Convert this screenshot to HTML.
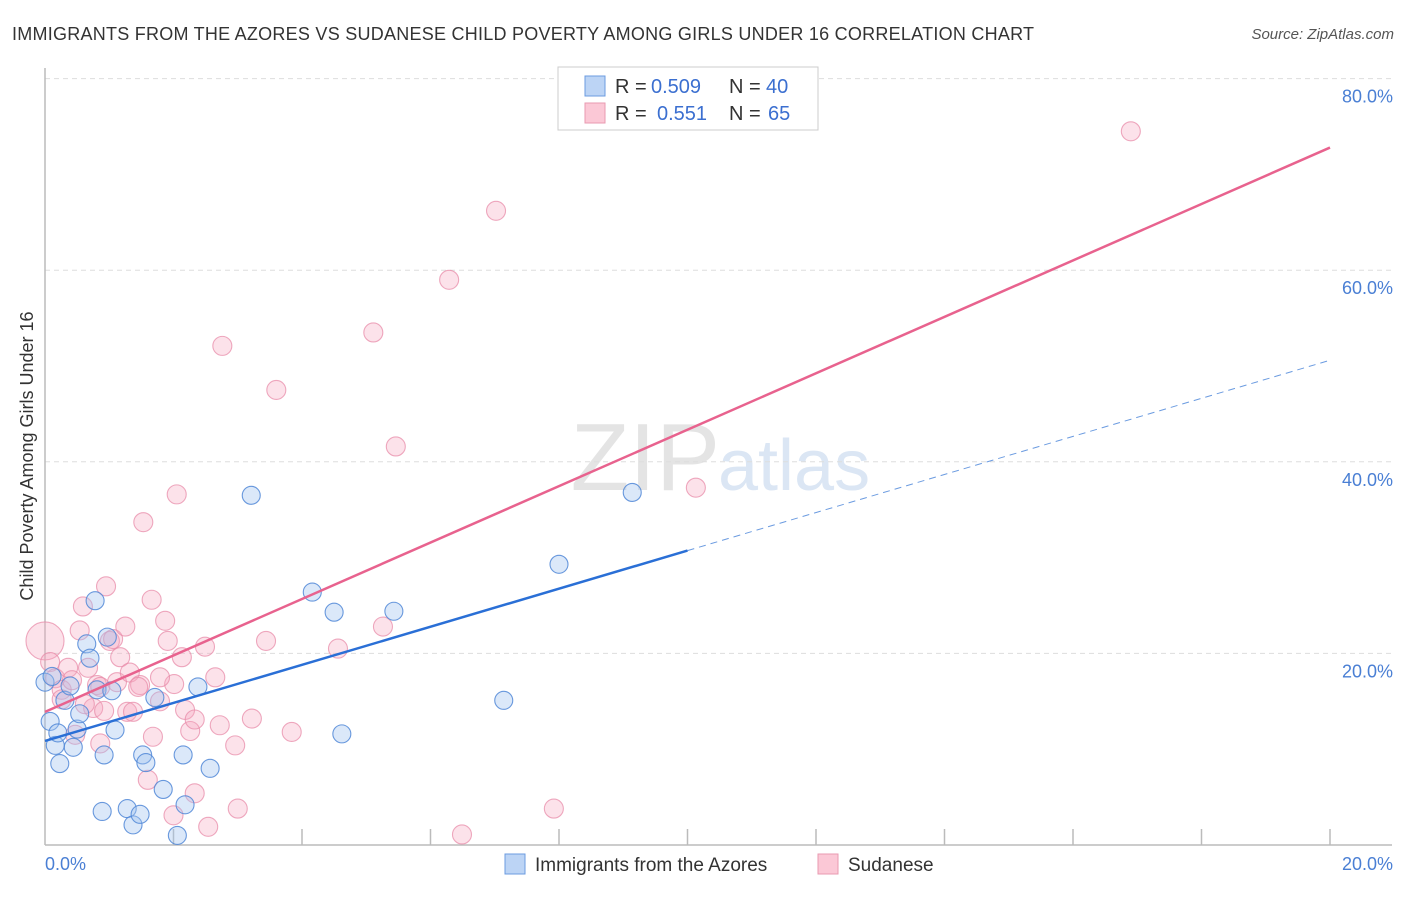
<!DOCTYPE html>
<html><head><meta charset="utf-8"><style>
body{margin:0;background:#fff;font-family:"Liberation Sans",sans-serif}
svg text{font-family:"Liberation Sans",sans-serif}
</style></head><body>
<svg id="c" width="1406" height="892" xmlns="http://www.w3.org/2000/svg">
<text x="12" y="40" font-size="18" fill="#333" textLength="1022">IMMIGRANTS FROM THE AZORES VS SUDANESE CHILD POVERTY AMONG GIRLS UNDER 16 CORRELATION CHART</text>
<text x="1394" y="39" font-size="15" fill="#555" font-style="italic" text-anchor="end">Source: ZipAtlas.com</text>
<text x="720" y="490" font-size="96" fill="#e4e4e4" font-family="Liberation Serif" text-anchor="end">ZIP</text>
<text x="718" y="490" font-size="72" fill="#dbe6f4">atlas</text>
<g id="grid"></g><g id="pts"></g><g id="lines"></g>
<text transform="translate(33,456) rotate(-90)" font-size="18" fill="#333" text-anchor="middle">Child Poverty Among Girls Under 16</text>
<text x="45" y="870" font-size="18" fill="#4a7fd4">0.0%</text>
<text x="1393" y="870" font-size="18" fill="#4a7fd4" text-anchor="end">20.0%</text>
<g>
<rect x="558" y="67" width="260" height="63" fill="#fff" stroke="#ccc"/>
<rect x="585" y="76" width="20" height="20" fill="#bcd4f5" stroke="#6b9be0"/>
<rect x="585" y="103" width="20" height="20" fill="#fbc8d6" stroke="#e89ab0"/>
<text y="93" font-size="20" fill="#333"><tspan x="615">R =</tspan><tspan x="651" fill="#3b6fd0">0.509</tspan><tspan x="729">N =</tspan><tspan x="766" fill="#3b6fd0">40</tspan></text>
<text y="120" font-size="20" fill="#333"><tspan x="615">R =</tspan><tspan x="657" fill="#3b6fd0">0.551</tspan><tspan x="729">N =</tspan><tspan x="768" fill="#3b6fd0">65</tspan></text>
</g>
<g>
<rect x="505" y="854" width="20" height="20" fill="#bcd4f5" stroke="#6b9be0"/>
<text x="535" y="871" font-size="19" fill="#333">Immigrants from the Azores</text>
<rect x="818" y="854" width="20" height="20" fill="#fbc8d6" stroke="#e89ab0"/>
<text x="848" y="871" font-size="19" fill="#333">Sudanese</text>
</g>
</svg>
<script>
const blueX=[0,0.08,0.16,0.23,0.2,0.31,0.39,0.44,0.5,0.54,0.65,0.7,0.78,0.81,0.92,0.89,0.97,1.04,1.09,1.28,1.37,1.48,1.52,1.57,1.71,1.84,2.06,2.15,2.18,2.38,2.57,3.21,4.16,4.5,4.62,5.43,7.14,8.0,9.14,0.11];
const blueY=[17.0,12.9,10.4,8.5,11.7,15.1,16.6,10.2,12.1,13.7,21.0,19.5,25.5,16.2,9.4,3.5,21.7,16.1,12.0,3.8,2.1,3.2,9.4,8.6,15.4,5.8,1.0,9.4,4.2,16.5,8.0,36.5,26.4,24.3,11.6,24.4,15.1,29.3,36.8,17.6];
const pinkX=[0,0.08,0.16,0.26,0.36,0.42,0.54,0.59,0.67,0.75,0.81,0.86,0.92,0.95,1.01,1.06,1.12,1.17,1.25,1.28,1.32,1.37,1.48,1.53,1.6,1.66,1.68,1.79,1.87,1.91,2.0,2.01,2.05,2.13,2.18,2.26,2.33,2.49,2.54,2.65,2.72,2.76,2.96,3.0,3.22,3.44,3.6,3.84,4.56,5.11,5.26,5.46,6.29,6.49,7.02,7.92,10.13,16.9,0.26,0.47,0.62,1.45,1.79,2.33,0.86];
const pinkY=[21.3,19.1,17.4,16.2,18.5,17.2,22.4,24.9,18.5,14.3,16.7,10.6,14.0,27.0,21.3,21.5,17.0,19.6,22.8,13.9,18.0,13.9,16.7,33.7,6.8,25.6,11.3,15.0,23.4,21.3,3.1,16.8,36.6,19.6,14.1,11.9,5.4,20.7,1.9,17.5,12.5,52.1,10.4,3.8,13.2,21.3,47.5,11.8,20.5,53.5,22.8,41.6,59.0,1.1,66.2,3.8,37.3,74.5,15.2,11.5,14.7,16.5,17.5,13.1,16.5];
const pinkSize=[20,10,10,10,10,10,10,10,10,10,10,10,10,10,10,10,10,10,10,10,10,10,10,10,10,10,10,10,10,10,10,10,10,10,10,10,10,10,10,10,10,10,10,10,10,10,10,10,10,10,10,10,10,10,10,10,10,10,10,10,10,10,10,10,10];
const yTicks=[20,40,60,80];
const blueLine=[10.86,50.6];
const pinkLine=[13.9,72.8];
const X0=45,X1=1330,Y0=845,PY=191.6/20;
const sx=v=>X0+(X1-X0)*v/20, sy=v=>Y0-v*PY;
const NS='http://www.w3.org/2000/svg';
function mk(tag,attrs,parent){const e=document.createElementNS(NS,tag);for(const k in attrs)e.setAttribute(k,attrs[k]);parent.appendChild(e);return e;}
const g=document.getElementById('grid');
yTicks.forEach(t=>{
 const l=mk('line',{x1:45,x2:1392,y1:sy(t),y2:sy(t),stroke:'#ddd','stroke-dasharray':'5,4'},g);
 
 
 const tx=mk('text',{x:1393,y:sy(t)+24,'font-size':18,fill:'#4a7fd4','text-anchor':'end'},g);
 tx.textContent=t.toFixed(1)+'%';
 
 
});
const ax=mk('line',{x1:45,x2:1392,y1:Y0,y2:Y0,stroke:'#bbb','stroke-width':1.5},g);


const ay=mk('line',{x1:45,x2:45,y1:68,y2:Y0,stroke:'#bbb','stroke-width':1.5},g);


for(let i=1;i<=10;i++){const t=mk('line',{x1:sx(i*2),x2:sx(i*2),y1:Y0,y2:Y0-16,stroke:'#bbb','stroke-width':1.5},g);
 
 }
const p=document.getElementById('pts');
pinkX.forEach((v,i)=>{const c=mk('circle',{cx:sx(v),cy:sy(pinkY[i]),r:pinkSize[i]*0.95,fill:'rgba(247,168,190,0.33)',stroke:'rgba(232,140,170,0.75)','stroke-width':1.1},p);
 
 });
blueX.forEach((v,i)=>{const c=mk('circle',{cx:sx(v),cy:sy(blueY[i]),r:9,fill:'rgba(160,195,240,0.38)',stroke:'rgba(80,135,215,0.85)','stroke-width':1.1},p);
 
 });
const L=document.getElementById('lines');
const bf=x=>blueLine[0]+(blueLine[1]-blueLine[0])*x/20, pf=x=>pinkLine[0]+(pinkLine[1]-pinkLine[0])*x/20;
const pl=mk('line',{x1:sx(0),y1:sy(pf(0)),x2:sx(20),y2:sy(pf(20)),stroke:'#e8628e','stroke-width':2.5},L);


const bl=mk('line',{x1:sx(0),y1:sy(bf(0)),x2:sx(10),y2:sy(bf(10)),stroke:'#2a6fd6','stroke-width':2.5},L);


const bd=mk('line',{x1:sx(10),y1:sy(bf(10)),x2:sx(20),y2:sy(bf(20)),stroke:'#6b9be0','stroke-width':1,'stroke-dasharray':'7,5'},L);


</script>
</body></html>
